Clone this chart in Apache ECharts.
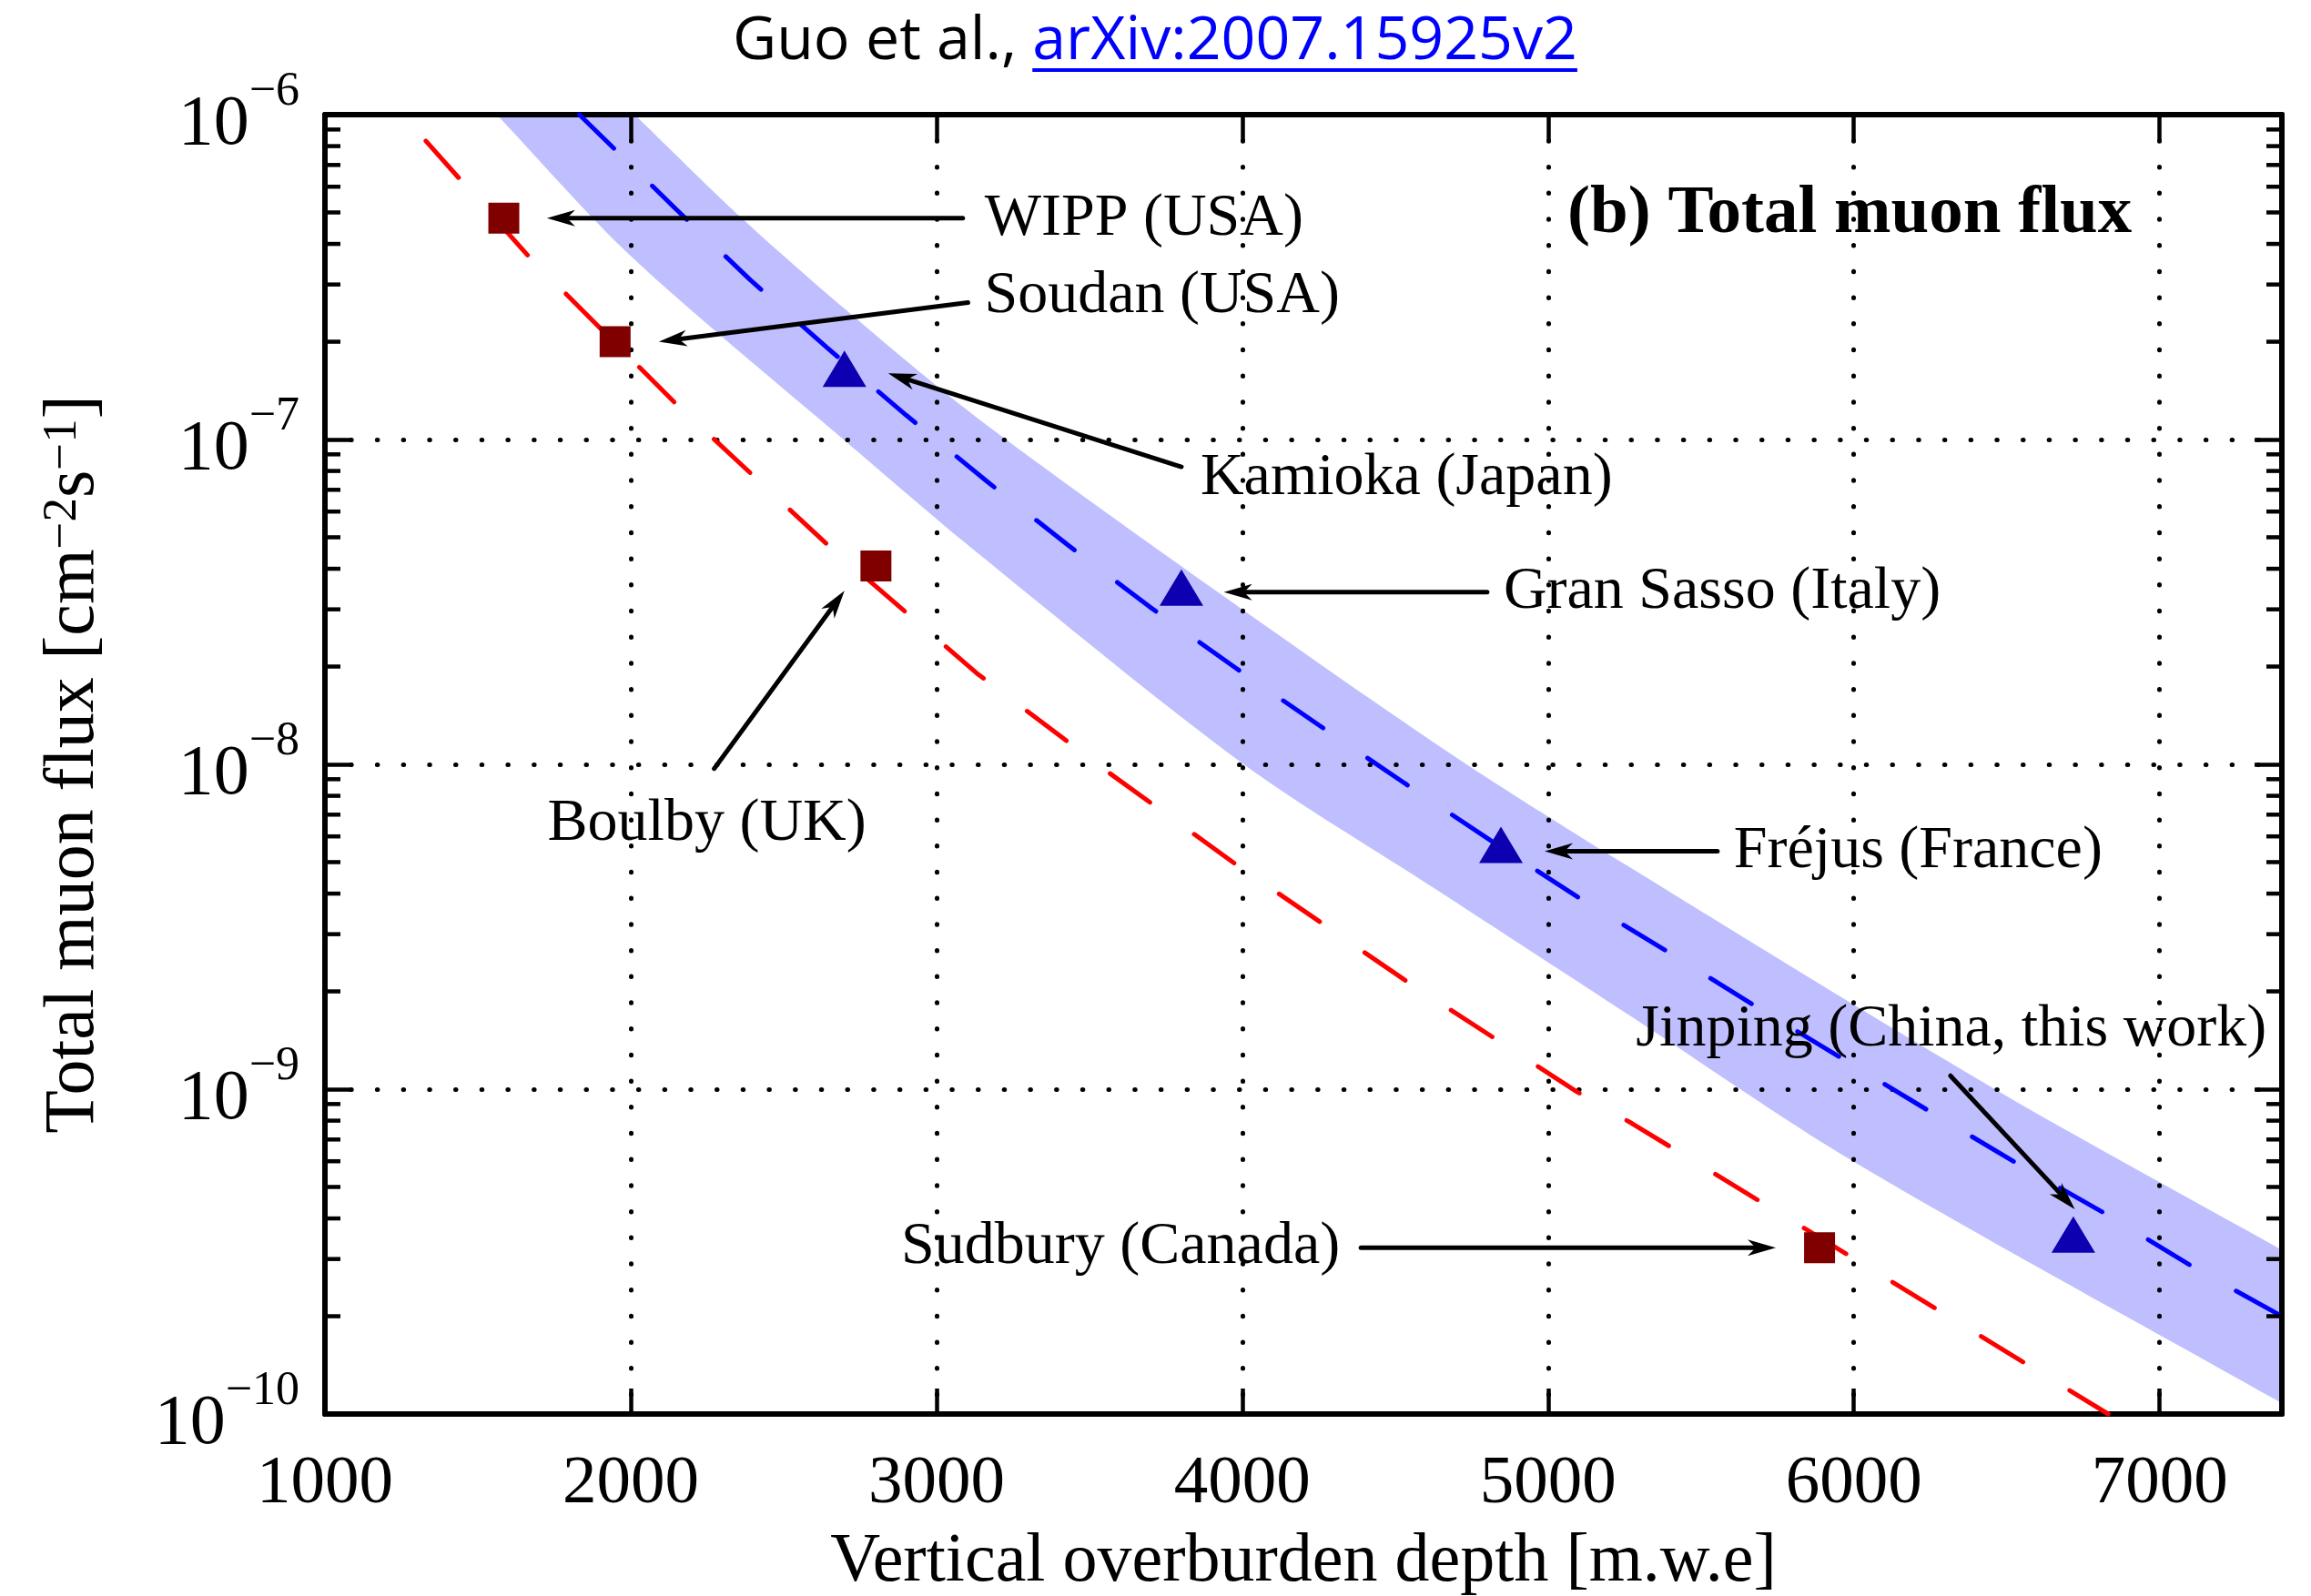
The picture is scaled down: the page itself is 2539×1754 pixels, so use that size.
<!DOCTYPE html>
<html>
<head>
<meta charset="utf-8">
<script src="https://cdn.jsdelivr.net/npm/echarts@6/dist/echarts.min.js"></script>
<style>
html,body{margin:0;padding:0;background:#fff;}
#chart{width:2539px;height:1754px;}
</style>
</head>
<body>
<div id="chart"></div>
<script>
// ---------------- data ----------------
const xTickValues = [1000, 2000, 3000, 4000, 5000, 6000, 7000];
const yDecadeExponents = [-10, -9, -8, -7, -6];

// measured sites (red squares)
const squareNames = ['WIPP (USA)', 'Soudan (USA)', 'Boulby (UK)', 'Sudbury (Canada)'];
const squareDepth = [1585, 1949, 2802, 5888];
const squareFlux  = [4.8e-7, 2.0e-7, 4.08e-8, 3.25e-10];

// measured sites (blue triangles)
const triangleNames = ['Kamioka (Japan)', 'Gran Sasso (Italy)', 'Fréjus (France)', 'Jinping (China, this work)'];
const triangleDepth = [2699, 3801, 4846, 6718];
const triangleFlux  = [1.65e-7, 3.5e-8, 5.65e-9, 3.57e-10];

// red dashed curve
const redDepth = [1330, 1671, 2147, 2642, 3131, 3554, 3977, 4531, 5091, 5274, 5971, 6832];
const redFlux  = [8.30e-7, 3.62e-7, 1.29e-7, 4.76e-8, 1.91e-8, 9.57e-9, 4.94e-9, 2.17e-9, 9.86e-10, 7.85e-10, 3.13e-10, 1.0e-10];

// blue dashed curve
const blueDepth = [1832, 2147, 2391, 2644, 2900, 3165, 3429, 3698, 3975, 4251, 4531, 4818, 5098, 5383, 5670, 5964, 6251, 6545, 6838, 7125, 7400];
const blueFlux  = [1.0e-6, 5.13e-7, 3.10e-7, 1.91e-7, 1.19e-7, 7.43e-8, 4.74e-8, 3.05e-8, 1.99e-8, 1.32e-8, 8.75e-9, 5.78e-9, 3.90e-9, 2.68e-9, 1.82e-9, 1.24e-9, 8.51e-10, 5.82e-10, 4.06e-10, 2.78e-10, 2.0e-10];

// blue uncertainty band
const bandUpperDepth = [2013, 2355, 2703, 3131, 3950, 4700, 5272, 6461, 7400];
const bandUpperFlux  = [1.0e-6, 4.88e-7, 2.51e-7, 1.17e-7, 3.24e-8, 1.05e-8, 4.79e-9, 1.0e-9, 3.2e-10];
const bandLowerDepth = [1562, 1999, 2696, 3131, 4005, 4634, 5274, 5997, 7400];
const bandLowerFlux  = [1.0e-6, 3.68e-7, 1.0e-7, 4.5e-8, 1.0e-8, 4.12e-9, 1.67e-9, 6.0e-10, 1.08e-10];

// annotations: text, arrow tail, arrow tip (data coordinates)
const annotText = ['WIPP (USA)', 'Soudan (USA)', 'Kamioka (Japan)', 'Gran Sasso (Italy)', 'Boulby (UK)', 'Fréjus (France)', 'Jinping (China, this work)', 'Sudbury (Canada)'];
const annotFrom = [[3086, 4.8e-7], [3103, 2.64e-7], [3801, 8.24e-8], [4801, 3.39e-8], [2273, 9.7e-9], [5554, 5.4e-9], [6316, 1.1e-9], [4388, 3.25e-10]];
const annotTo   = [[1726, 4.8e-7], [2092, 2.0e-7], [2842, 1.6e-7], [3940, 3.39e-8], [2699, 3.42e-8], [4989, 5.4e-9], [6723, 4.27e-10], [5745, 3.25e-10]];

// ---------------- layout / style (not data) ----------------
const annotAlign = ['left', 'left', 'left', 'left', 'center', 'left', 'center', 'right'];
const annotDx = [24, 18, 21, 18, -8, 18, 1, -23];
const annotDy = [1, -7, 13, 0, 61, 0, -51, -1];

const X_MIN = 1000, X_MAX = 7400, Y_MIN = 1e-10, Y_MAX = 1e-6;
const SERIF = "'Liberation Serif','Times New Roman',serif";
const TITLE_FONT = "'Liberation Sans Narrow','Arial Narrow','Open Sans',sans-serif";

// minor ticks of the log axis (2..9 x 10^n)
const minorTickValues = [];
for (let e = -10; e < -6; e++) for (let k = 2; k <= 9; k++) minorTickValues.push(k * Math.pow(10, e));

function zip(a, b) { return a.map((v, i) => [v, b[i]]); }
function measure(txt, size, family, weight) {
  const c = document.createElement('canvas').getContext('2d');
  c.font = (weight || 'normal') + ' ' + size + 'px ' + family;
  return c.measureText(txt).width;
}

// title layout
const titlePart1 = 'Guo et al., ', titlePart2 = 'arXiv:2007.15925v2';
const wAll = measure(titlePart1 + titlePart2, 74, TITLE_FONT);
const titleSize = Math.min(78, 74 * 928 / wAll);
const tw1 = measure(titlePart1, titleSize, TITLE_FONT);
const tw2 = measure(titlePart2, titleSize, TITLE_FONT);
const titleLeft = 1269 - (tw1 + tw2) / 2;

const chart = echarts.init(document.getElementById('chart'), null, {renderer: 'canvas', width: 2539, height: 1754});

const axisLineStyle = {color: '#000', width: 6};
const majorTickStyle = {color: '#000', width: 4.5};
const gridDots = {color: '#000', width: 5, type: [0.5, 28.2], cap: 'round'};

function expLabel(v) {
  const e = Math.round(Math.log10(v));
  return '{b|10}{s|\u2212' + Math.abs(e) + '}';
}

// duplicate end points so that the smoothed band keeps sharp corners on the frame
function edge(depth, flux, api) {
  const pts = depth.map((d, i) => api.coord([d, flux[i]]));
  return [pts[0]].concat(pts, [pts[pts.length - 1]]);
}

const option = {
  backgroundColor: '#ffffff',
  animation: false,
  grid: {left: 357, right: 32, top: 126, bottom: 200, containLabel: false, outerBoundsMode: 'none'},
  xAxis: [
    {
      type: 'value', min: X_MIN, max: X_MAX, interval: 1000, position: 'bottom',
      axisLine: {show: true, onZero: false, lineStyle: axisLineStyle},
      axisTick: {show: true, inside: true, length: 28, lineStyle: majorTickStyle},
      axisLabel: {show: true, margin: 40, fontFamily: SERIF, fontSize: 75, color: '#000', showMaxLabel: false,
        formatter: v => String(v)},
      splitLine: {show: true, lineStyle: gridDots},
      name: 'Vertical overburden depth [m.w.e]', nameLocation: 'middle', nameGap: 125,
      nameTextStyle: {fontFamily: SERIF, fontSize: 76, color: '#000'}
    },
    {
      type: 'value', min: X_MIN, max: X_MAX, interval: 1000, position: 'top',
      axisLine: {show: true, onZero: false, lineStyle: axisLineStyle},
      axisTick: {show: true, inside: true, length: 28, lineStyle: majorTickStyle},
      axisLabel: {show: false}, splitLine: {show: false}
    }
  ],
  yAxis: [
    {
      type: 'log', logBase: 10, min: Y_MIN, max: Y_MAX, position: 'left',
      axisLine: {show: true, onZero: false, lineStyle: axisLineStyle},
      axisTick: {show: true, inside: true, length: 30, lineStyle: majorTickStyle},
      axisLabel: {
        show: true, margin: 28, formatter: expLabel,
        rich: {
          b: {fontFamily: SERIF, fontSize: 78, lineHeight: 102, verticalAlign: 'bottom', color: '#000'},
          s: {fontFamily: SERIF, fontSize: 52, lineHeight: 52, verticalAlign: 'top', color: '#000'}
        }
      },
      splitLine: {show: true, lineStyle: gridDots},
      name: 'Total muon flux [cm{s|\u22122}s{s|\u22121}]', nameLocation: 'middle', nameGap: 236, nameRotate: 90,
      nameTextStyle: {
        fontFamily: SERIF, fontSize: 78, color: '#000',
        rich: {
          s: {fontFamily: SERIF, fontSize: 53, lineHeight: 53, verticalAlign: 'top', color: '#000'}
        }
      }
    },
    {
      type: 'log', logBase: 10, min: Y_MIN, max: Y_MAX, position: 'right',
      axisLine: {show: true, onZero: false, lineStyle: axisLineStyle},
      axisTick: {show: true, inside: true, length: 30, lineStyle: majorTickStyle},
      axisLabel: {show: false}, splitLine: {show: false}
    }
  ],
  graphic: [
    {type: 'text', x: titleLeft, y: 46, style: {text: titlePart1, fontFamily: TITLE_FONT, fontSize: titleSize, fill: '#000', align: 'left', verticalAlign: 'middle'}},
    {type: 'text', x: titleLeft + tw1, y: 46, style: {text: titlePart2, fontFamily: TITLE_FONT, fontSize: titleSize, fill: '#0000ff', align: 'left', verticalAlign: 'middle'}},
    {type: 'rect', shape: {x: titleLeft + tw1, y: 75, width: tw2, height: 4}, style: {fill: '#0000ff'}},
    {type: 'text', x: 1722, y: 236, z: 100, style: {text: '(b) Total muon flux', fontFamily: SERIF, fontWeight: 'bold', fontSize: 75, fill: '#000', align: 'left', verticalAlign: 'middle'}}
  ],
  series: [
    {
      name: 'band', type: 'custom', z: -5, silent: true,
      data: [[X_MIN, Y_MAX]],
      renderItem: function (params, api) {
        const up = edge(bandUpperDepth, bandUpperFlux, api);
        const lo = edge(bandLowerDepth, bandLowerFlux, api).reverse();
        return {type: 'polygon', shape: {points: up.concat(lo), smooth: 0.3}, style: {fill: '#bfbfff', stroke: null}};
      }
    },
    {
      name: 'red', type: 'line', data: zip(redDepth, redFlux), showSymbol: false, silent: true, z: 3,
      lineStyle: {color: '#ff0000', width: 5, type: [54, 60], cap: 'round'}
    },
    {
      name: 'blue', type: 'line', data: zip(blueDepth, blueFlux), showSymbol: false, silent: true, z: 3,
      lineStyle: {color: '#0000ff', width: 5, type: [53, 59], cap: 'round'}
    },
    {
      name: 'squares', type: 'scatter', data: zip(squareDepth, squareFlux), symbol: 'rect', symbolSize: 34, z: 5,
      itemStyle: {color: '#800000', opacity: 1}
    },
    {
      name: 'triangles', type: 'scatter', data: zip(triangleDepth, triangleFlux), symbol: 'triangle', symbolSize: [48, 40], z: 5,
      itemStyle: {color: '#0d00b0', opacity: 1}
    },
    {
      name: 'minorTicks', type: 'custom', silent: true, z: 6,
      data: minorTickValues.map(v => [X_MIN, v]),
      renderItem: function (params, api) {
        const v = api.value(1);
        const pL = api.coord([X_MIN, v]);
        const pR = api.coord([X_MAX, v]);
        const len = 17;
        return {type: 'group', children: [
          {type: 'line', shape: {x1: pL[0], y1: pL[1], x2: pL[0] + len, y2: pL[1]}, style: {stroke: '#000', lineWidth: 4.5}},
          {type: 'line', shape: {x1: pR[0] - len, y1: pR[1], x2: pR[0], y2: pR[1]}, style: {stroke: '#000', lineWidth: 4.5}}
        ]};
      }
    },
    {
      name: 'annotations', type: 'custom', silent: true, z: 7,
      data: annotText.map((t, i) => [annotFrom[i][0], annotFrom[i][1]]),
      renderItem: function (params, api) {
        const i = params.dataIndex;
        const a = api.coord(annotFrom[i]);
        const b = api.coord(annotTo[i]);
        const dx = b[0] - a[0], dy = b[1] - a[1];
        const L = Math.hypot(dx, dy);
        const ux = dx / L, uy = dy / L, nx = -uy, ny = ux;
        const headL = 31, headW = 9, notch = 22;
        const base = [b[0] - ux * notch, b[1] - uy * notch];
        return {type: 'group', children: [
          {type: 'line', shape: {x1: a[0], y1: a[1], x2: base[0], y2: base[1]}, style: {stroke: '#000', lineWidth: 5, lineCap: 'round'}},
          {type: 'polygon', shape: {points: [
            [b[0], b[1]],
            [b[0] - ux * headL + nx * headW, b[1] - uy * headL + ny * headW],
            base,
            [b[0] - ux * headL - nx * headW, b[1] - uy * headL - ny * headW]
          ]}, style: {fill: '#000'}},
          {type: 'text', x: a[0] + annotDx[i], y: a[1] + annotDy[i], style: {
            text: annotText[i], fontFamily: SERIF, fontSize: 66, fill: '#000',
            align: annotAlign[i], verticalAlign: 'middle'
          }}
        ]};
      }
    }
  ]
};
chart.setOption(option);
</script>
</body>
</html>
